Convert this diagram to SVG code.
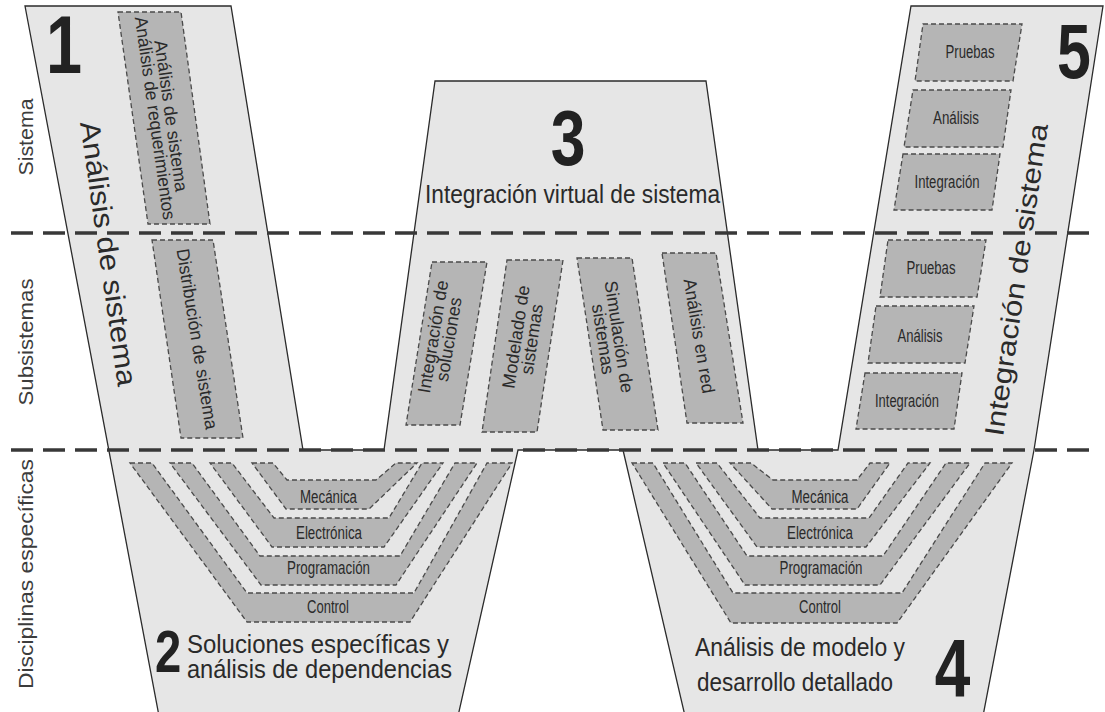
<svg xmlns="http://www.w3.org/2000/svg" width="1105" height="712" viewBox="0 0 1105 712">
<style>
.frame{fill:#e6e6e6;stroke:#2b2b2b;stroke-width:1.3;stroke-linejoin:miter}
.box{fill:#b5b5b5;stroke:#4a4a4a;stroke-width:1.3;stroke-dasharray:5 3}
.sep{stroke:#383838;stroke-width:3.5;stroke-dasharray:22 10;fill:none}
.t{font-family:"Liberation Sans",Arial,sans-serif;fill:#2a2a2a}
.lbl{font-size:17.5px;text-anchor:middle}
.rl{font-size:18px;text-anchor:middle;dominant-baseline:central}
.big{font-size:25.5px}
.num{font-family:"Liberation Sans",Arial,sans-serif;font-weight:bold;fill:#222;text-anchor:middle}
.side{font-family:"Liberation Sans",Arial,sans-serif;font-size:20.5px;text-anchor:middle;fill:#3c3c3c}
</style>
<rect width="1105" height="712" fill="#ffffff"/>
<g id="frame">
<polygon class="frame" points="25,6 231,6 303,450 384,450 435,81 706,81 758,450 838,450 911,6 1103,6 1034,450 983,716 685,716 623,450 518,450 458,716 159,716"/>
</g>
<g id="connectors">
<line class="sep" x1="11" y1="233" x2="1092" y2="233"/>
<line class="sep" x1="11" y1="450" x2="1092" y2="450"/>
</g>
<g id="levels">
<text class="side" transform="translate(33,137) rotate(-90)" textLength="77" lengthAdjust="spacingAndGlyphs">Sistema</text>
<text class="side" transform="translate(33,342) rotate(-90)" textLength="127" lengthAdjust="spacingAndGlyphs">Subsistemas</text>
<text class="side" transform="translate(33,574) rotate(-90)" textLength="230" lengthAdjust="spacingAndGlyphs">Disciplinas específicas</text>
</g>
<g id="stage1">
<text class="num" font-size="81" transform="translate(64,73) scale(0.8,1)">1</text>
<text class="t" font-size="28" text-anchor="middle" transform="translate(99,255) rotate(81.8)" textLength="267" lengthAdjust="spacingAndGlyphs">Análisis de sistema</text>
<g id="box-analisis-sistema">
<polygon class="box" points="118,12 181,12 210,224 148,224"/>
<g transform="translate(163,117) rotate(82)">
<text class="t rl" y="-8" textLength="153" lengthAdjust="spacingAndGlyphs">Análisis de sistema</text>
<text class="t rl" y="8" textLength="205" lengthAdjust="spacingAndGlyphs">Análisis de requerimientos</text>
</g>
</g>
<g id="box-distribucion">
<polygon class="box" points="152,240 213,240 243,438 181,438"/>
<text class="t rl" transform="translate(197,339) rotate(80.8)" textLength="183" lengthAdjust="spacingAndGlyphs">Distribución de sistema</text>
</g>
</g>
<g id="stage3">
<text class="num" font-size="78" transform="translate(568,165) scale(0.8,1)">3</text>
<text class="t big" x="572.5" y="203" text-anchor="middle" textLength="295" lengthAdjust="spacingAndGlyphs">Integración virtual de sistema</text>
<g id="box-integracion-soluciones">
<polygon class="box" points="432,262 487,262 460,425 406,425"/>
<g transform="translate(441,338) rotate(-80.6)">
<text class="t rl" y="-8">Integración de</text>
<text class="t rl" y="8">soluciones</text>
</g>
</g>
<g id="box-modelado">
<polygon class="box" points="507,260 563,260 537,432 482,432"/>
<g transform="translate(524,338) rotate(-81.4)">
<text class="t rl" y="-8">Modelado de</text>
<text class="t rl" y="8">sistemas</text>
</g>
</g>
<g id="box-simulacion">
<polygon class="box" points="577,258 632,258 658,430 603,430"/>
<g transform="translate(611,338) rotate(81.4)">
<text class="t rl" y="-8">Simulación de</text>
<text class="t rl" y="8">sistemas</text>
</g>
</g>
<g id="box-analisis-red">
<polygon class="box" points="662,253 716,253 743,423 687,423"/>
<text class="t rl" transform="translate(699,336) rotate(80.5)" textLength="116" lengthAdjust="spacingAndGlyphs">Análisis en red</text>
</g>
</g>
<g id="stage5">
<text class="num" font-size="78" transform="translate(1074,78) scale(0.78,1)">5</text>
<text class="t" font-size="27" text-anchor="middle" transform="translate(1025.5,281) rotate(-81.8)" textLength="315" lengthAdjust="spacingAndGlyphs">Integración de sistema</text>
<g id="box-s-pruebas"><polygon class="box" points="923,24 1022,24 1013,81 915,81"/>
<text class="t lbl" x="970" y="58" textLength="49" lengthAdjust="spacingAndGlyphs">Pruebas</text></g>
<g id="box-s-analisis"><polygon class="box" points="913,90 1011,90 1003,147 904,147"/>
<text class="t lbl" x="956" y="124" textLength="46" lengthAdjust="spacingAndGlyphs">Análisis</text></g>
<g id="box-s-integracion"><polygon class="box" points="903,154 1000,154 992,210 894,210"/>
<text class="t lbl" x="947" y="188" textLength="65" lengthAdjust="spacingAndGlyphs">Integración</text></g>
<g id="box-ss-pruebas"><polygon class="box" points="888,240 986,240 977,297 880,297"/>
<text class="t lbl" x="931" y="274" textLength="49" lengthAdjust="spacingAndGlyphs">Pruebas</text></g>
<g id="box-ss-analisis"><polygon class="box" points="876,306 974,306 965,363 868,363"/>
<text class="t lbl" x="920" y="342" textLength="45" lengthAdjust="spacingAndGlyphs">Análisis</text></g>
<g id="box-ss-integracion"><polygon class="box" points="865,373 962,373 954,429 856,429"/>
<text class="t lbl" x="907" y="407" textLength="64" lengthAdjust="spacingAndGlyphs">Integración</text></g>
</g>
<g id="stage2">
<g id="l-control"><polygon class="box" points="130,463 152,463 247,593 414,593 487,463 512,463 410,622 247,622"/>
<text class="t lbl" x="328" y="613" textLength="42" lengthAdjust="spacingAndGlyphs">Control</text></g>
<g id="l-programacion"><polygon class="box" points="170,463 192,463 260,556 400,556 455,463 477,463 396,585 261,585"/>
<text class="t lbl" x="328.5" y="574" textLength="83" lengthAdjust="spacingAndGlyphs">Programación</text></g>
<g id="l-electronica"><polygon class="box" points="210,463 232,463 274,518 389,518 422,463 443,463 384,547 272,547"/>
<text class="t lbl" x="329" y="539" textLength="66" lengthAdjust="spacingAndGlyphs">Electrónica</text></g>
<g id="l-mecanica"><polygon class="box" points="252,463 273,463 287,480 376,480 396,463 417,463 369,509 286,509"/>
<text class="t lbl" x="328.5" y="503" textLength="57" lengthAdjust="spacingAndGlyphs">Mecánica</text></g>
<text class="num" font-size="59" transform="translate(168,672) scale(0.8,1)">2</text>
<text class="t big" x="187" y="653" textLength="262" lengthAdjust="spacingAndGlyphs">Soluciones específicas y</text>
<text class="t big" x="187" y="678" textLength="265" lengthAdjust="spacingAndGlyphs">análisis de dependencias</text>
</g>
<g id="stage4">
<g id="r-control"><polygon class="box" points="632,463 653,463 733,593 902,593 985,463 1012,463 897,623 731,623"/>
<text class="t lbl" x="820" y="613" textLength="42" lengthAdjust="spacingAndGlyphs">Control</text></g>
<g id="r-programacion"><polygon class="box" points="663,463 685,463 747,556 883,556 946,463 970,463 880,585 745,585"/>
<text class="t lbl" x="821" y="574" textLength="83" lengthAdjust="spacingAndGlyphs">Programación</text></g>
<g id="r-electronica"><polygon class="box" points="696,463 717,463 760,518 869,518 908,463 930,463 866,547 757,547"/>
<text class="t lbl" x="820" y="539" textLength="66" lengthAdjust="spacingAndGlyphs">Electrónica</text></g>
<g id="r-mecanica"><polygon class="box" points="730,463 751,463 773,480 857,480 870,463 890,463 857,509 772,509"/>
<text class="t lbl" x="820" y="503" textLength="57" lengthAdjust="spacingAndGlyphs">Mecánica</text></g>
<text class="t big" x="695" y="656" textLength="210" lengthAdjust="spacingAndGlyphs">Análisis de modelo y</text>
<text class="t big" x="697" y="691" textLength="196" lengthAdjust="spacingAndGlyphs">desarrollo detallado</text>
<text class="num" font-size="82" transform="translate(952.5,696) scale(0.78,1)">4</text>
</g>
</svg>
